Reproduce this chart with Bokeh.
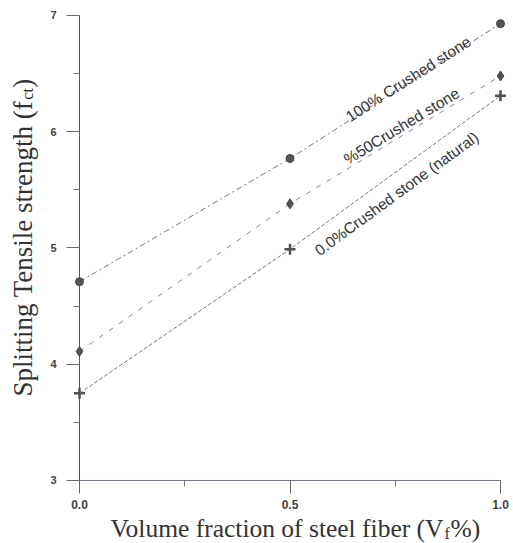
from bokeh.plotting import figure
from bokeh.models import Range1d, FixedTicker, PrintfTickFormatter, Label
from bokeh.embed import file_html
from bokeh.resources import INLINE
import math

# ---- data ----
fiber = [0.0, 0.5, 1.0]
s100 = [4.71, 5.77, 6.93]
s50 = [4.11, 5.38, 6.48]
s0 = [3.75, 4.99, 6.31]

x_ticks = [0.0, 0.5, 1.0]
x_minor = [0.25, 0.75]
y_ticks = [3, 4, 5, 6, 7]
y_minor = [3.5, 4.5, 5.5, 6.5]

label100 = "100% Crushed stone"
label50 = "%50Crushed stone"
label0 = "0.0%Crushed stone (natural)"
ylab_main = "Splitting Tensile strength (f"
ylab_sub = "ct"
ylab_end = ")"
xlab_main = "Volume fraction of steel fiber (V"
xlab_sub = "f"
xlab_end = "%)"

# frame covers the whole canvas so nothing is clipped; axes are fixed in data space
p = figure(width=513, height=543, output_backend="svg", toolbar_location=None,
           x_range=Range1d(-0.18765, 1.03088), y_range=Range1d(2.458, 7.129),
           min_border_left=0, min_border_right=0, min_border_top=0, min_border_bottom=0)
p.outline_line_color = None
p.grid.visible = False
p.background_fill_color = "white"

p.yaxis.fixed_location = x_ticks[0]
p.xaxis.fixed_location = y_ticks[0]
for ax in (p.xaxis[0], p.yaxis[0]):
    ax.major_tick_in = 0
    ax.major_tick_out = 13
    ax.minor_tick_in = 0
    ax.minor_tick_out = 6
    ax.major_label_text_font = "Liberation Sans"
    ax.major_label_text_font_style = "bold"
    ax.major_label_text_color = "#444444"
    ax.major_tick_line_color = "#666666"
    ax.minor_tick_line_color = "#777777"
    ax.axis_line_color = None
p.xaxis.ticker = FixedTicker(ticks=x_ticks, minor_ticks=x_minor)
p.yaxis.ticker = FixedTicker(ticks=y_ticks, minor_ticks=y_minor)
p.xaxis.formatter = PrintfTickFormatter(format="%.1f")
p.xaxis.major_label_text_font_size = "12px"
p.yaxis.major_label_text_font_size = "11px"
p.xaxis.major_label_standoff = 7
p.yaxis.major_label_standoff = 10

# axis lines (from the tick extents)
p.segment(x0=[x_ticks[0]], y0=[y_ticks[0]], x1=[x_ticks[0]], y1=[y_ticks[-1]],
          line_color="#555555", line_width=1)
p.segment(x0=[x_ticks[0]], y0=[y_ticks[0]], x1=[x_ticks[-1]], y1=[y_ticks[0]],
          line_color="#6f7888", line_width=1)

# lines
p.line(fiber, s100, line_color="#777777", line_width=1, line_dash="6 3 2 3")
p.line(fiber, s50, line_color="#888888", line_width=1, line_dash="5 7")
p.line(fiber, s0, line_color="#777777", line_width=1, line_dash="4 2")

# markers
p.scatter(fiber, s100, marker="circle", size=8, fill_color="#555555", line_color="#444444")
p.scatter(fiber, s50, marker="diamond", size=10, fill_color="#555555", line_color="#444444")
p.scatter(fiber, s0, marker="cross", size=11, line_color="#4a574a", line_width=2.5)

# curve labels
for txt, x, y, ang in [(label100, 0.781, 6.455, 32.6), (label50, 0.765, 6.05, 31.3),
                       (label0, 0.753, 5.468, 36.1)]:
    p.add_layout(Label(x=x, y=y, text=txt, angle=math.radians(ang), text_align="center",
                       text_baseline="middle", text_font="Liberation Sans", text_font_size="15.5px",
                       text_color="#333333"))

# y axis label (with subscript)
p.add_layout(Label(x=-0.1331, y=6.267, text=ylab_main, angle=math.pi/2, text_align="right",
                   text_baseline="alphabetic", text_font="Liberation Serif", text_font_size="27px",
                   text_color="#333333"))
p.add_layout(Label(x=-0.1236, y=6.276, text=ylab_sub, angle=math.pi/2, text_align="left",
                   text_baseline="alphabetic", text_font="Liberation Serif", text_font_size="16px",
                   text_color="#333333"))
p.add_layout(Label(x=-0.1331, y=6.379, text=ylab_end, angle=math.pi/2, text_align="left",
                   text_baseline="alphabetic", text_font="Liberation Serif", text_font_size="27px",
                   text_color="#333333"))

# x axis label (with subscript)
p.add_layout(Label(x=0.8646, y=2.587, text=xlab_main, text_align="right",
                   text_baseline="alphabetic", text_font="Liberation Serif", text_font_size="25.5px",
                   text_color="#333333"))
p.add_layout(Label(x=0.8670, y=2.544, text=xlab_sub, text_align="left",
                   text_baseline="alphabetic", text_font="Liberation Serif", text_font_size="16px",
                   text_color="#333333"))
p.add_layout(Label(x=0.8812, y=2.587, text=xlab_end, text_align="left",
                   text_baseline="alphabetic", text_font="Liberation Serif", text_font_size="25.5px",
                   text_color="#333333"))

open("out.html", "w").write(file_html(p, INLINE))
